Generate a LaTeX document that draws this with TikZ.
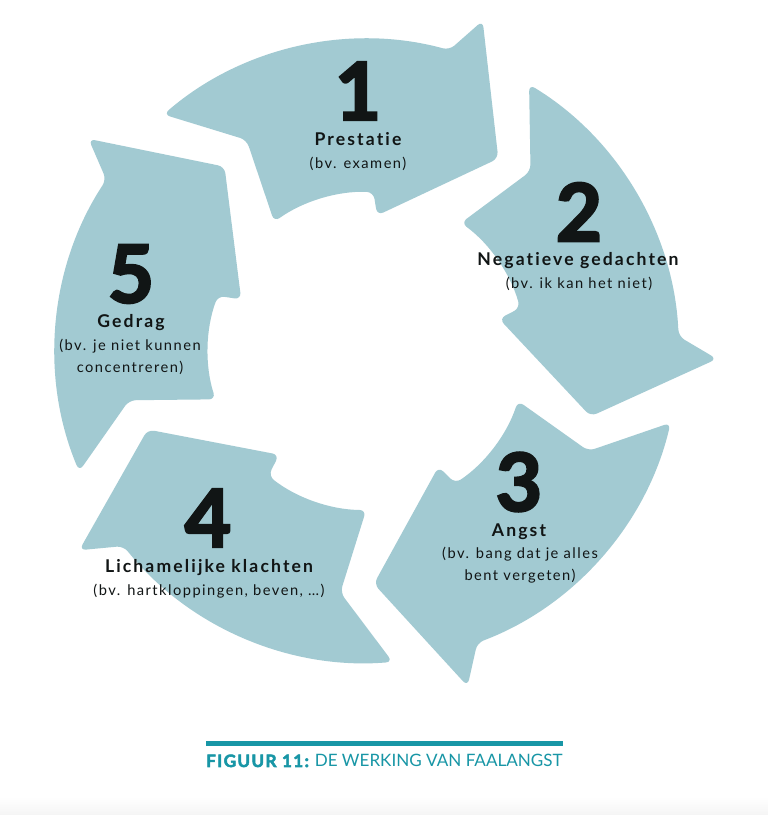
\documentclass[tikz,border=0pt]{standalone}
\usepackage{fontspec}
\setmainfont{Lato}[Ligatures=CommonOff]
\newfontfamily\cijferfont{Lato}[Ligatures=CommonOff, BoldFeatures={FakeBold=3}]
\usetikzlibrary{positioning}

\definecolor{pijlblauw}{RGB}{162,202,210}
\definecolor{kaderteal}{RGB}{24,150,166}
\definecolor{tekstzwart}{RGB}{17,21,21}

\tikzset{
  pijl/.style={fill=pijlblauw, rounded corners=5pt},
  nummer/.style={font=\cijferfont\bfseries\fontsize{60}{60}\selectfont, text=tekstzwart, inner sep=0pt},
  titel/.style={font=\bfseries\fontsize{13.2}{15}\selectfont\addfontfeatures{LetterSpace=12}, text=tekstzwart, inner sep=0pt, anchor=base},
  uitleg/.style={font=\fontsize{11}{16.5}\selectfont\addfontfeatures{LetterSpace=10}, text=tekstzwart, inner sep=0pt, anchor=base, align=center}
}

\begin{document}
\begin{tikzpicture}[x=0.75pt, y=0.75pt]
  \fill[white] (0,0) rectangle (768,815);
  \shade[top color=white, bottom color=black!4] (0,0) rectangle (768,18);
  \useasboundingbox (0,0) rectangle (768,815);

  % de vijf pijlen in een kring, met de klok mee
  \begin{scope}[shift={(367,464)}]
    \foreach \a in {55.7,-16.3,-88.3,-160.3,127.7}{
      \fill[pijl] (\a:233) -- (\a+15:350) -- (\a+19:312)
        arc[start angle=\a+19, end angle=\a+75, radius=312]
        -- (\a+64:243) -- (\a+70:159)
        arc[start angle=\a+70, end angle=\a+32, radius=159]
        -- (\a+30:136) -- cycle;
    }
  \end{scope}

  \node[nummer] (n1) at (358,724) {1};
  \node[titel] (t1) at (358,669) {Prestatie};
  \node[uitleg] (u1) at (358,646) {(bv. examen)};

  \node[nummer] (n2) at (579,603) {2};
  \node[titel] (t2) at (578,549) {Negatieve gedachten};
  \node[uitleg] (u2) at (579,526) {(bv. ik kan het niet)};

  \node[nummer] (n3) at (519,333) {3};
  \node[titel] (t3) at (519,278) {Angst};
  \node[uitleg] (u3) at (520,234) {(bv. bang dat je alles\\bent vergeten)};

  \node[nummer] (n4) at (208,297) {4};
  \node[titel] (t4) at (209,242) {Lichamelijke klachten};
  \node[uitleg] (u4) at (209,219) {(bv. hartkloppingen, beven, \dots)};

  \node[nummer] (n5) at (131,541) {5};
  \node[titel] (t5) at (131,487) {Gedrag};
  \node[uitleg] (u5) at (130,442) {(bv. je niet kunnen\\concentreren)};

  % bijschrift
  \fill[kaderteal] (206,69) rectangle (563,74);
  \node[anchor=base west, inner sep=0pt, text=kaderteal, font=\fontsize{12.8}{16}\selectfont] (fig) at (206,48)
    {{\cijferfont\bfseries\addfontfeatures{LetterSpace=8}FIGUUR 11:} DE WERKING VAN FAALANGST};
\end{tikzpicture}
\end{document}
